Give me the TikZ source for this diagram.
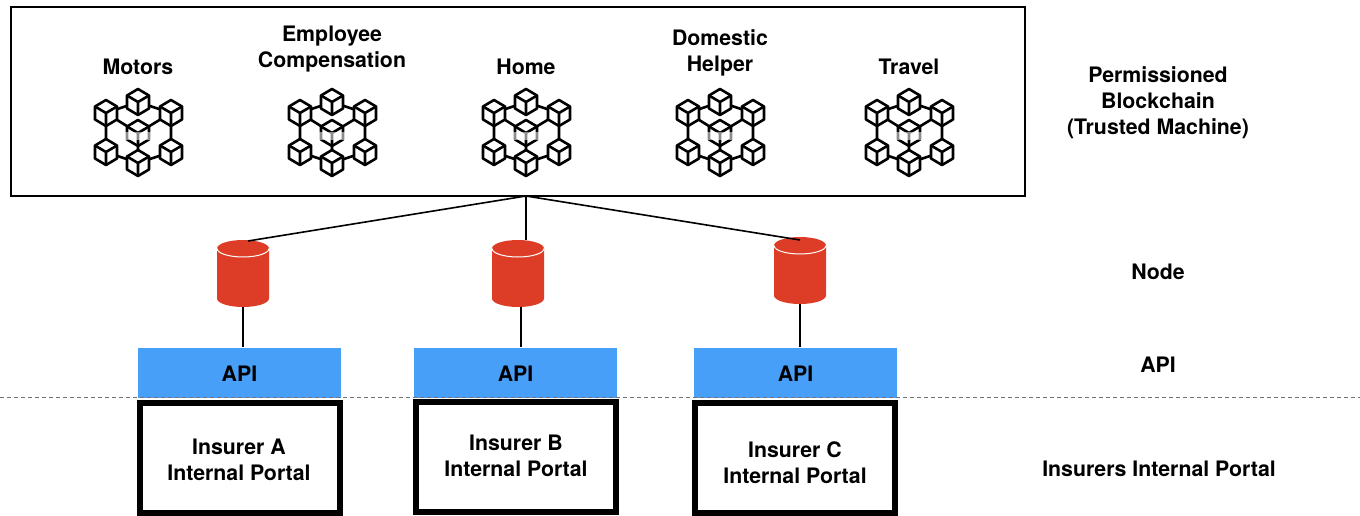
\documentclass[tikz,border=0pt]{standalone}
\usepackage{fontspec}
\setmainfont{TeX Gyre Heros}
\definecolor{dbred}{HTML}{DD3D26}
\definecolor{apiblue}{HTML}{479FF8}
\tikzset{
  x=1pt,y=-1pt,
  label/.style={font=\bfseries\fontsize{21.3}{26}\selectfont,align=center,inner sep=0pt,text=black},
  frame/.style={draw=black,line width=1.6pt,fill=white,inner sep=0pt,minimum width=1014pt,minimum height=189pt},
  apibox/.style={fill=apiblue,inner sep=0pt,minimum width=203pt,minimum height=50pt},
  portal/.style={draw=black,line width=6pt,fill=white,inner sep=0pt,minimum width=200pt,minimum height=110pt},
  dbcyl/.style={inner sep=0pt,minimum width=52pt,minimum height=67pt},
  wire/.style={draw=black,line width=1.6pt},
  cubeline/.style={line width=2.6pt,line join=round,draw=black},
  cubeicon/.pic={
    \path[cubeline,fill=white] (0,-13)--(11,-6.5)--(11,6.5)--(0,13)--(-11,6.5)--(-11,-6.5)--cycle;
    \path[cubeline] (-11,-6.5)--(0,0)--(11,-6.5) (0,0)--(0,13);
  },
  softcube/.pic={
    \path[cubeline,fill=white] (0,-13)--(11,-6.5)--(11,6.5)--(0,13)--(-11,6.5)--(-11,-6.5)--cycle;
    \path[cubeline] (-11,-6.5)--(0,0)--(11,-6.5) (0,0)--(0,13);
    \fill[white,opacity=0.55] (-14,-1) rectangle (14,7);
  },
  chainicon/.pic={
    \path[cubeline] (0,-30)--(-32,-19)--(0,1)--(33,-19)--cycle
      (-32,-19)--(-32,20)--(0,31)--(33,20)--(33,-19) (0,1)--(0,31);
    \path (0,1) pic{softcube} (0,-30) pic{cubeicon} (-32,-19) pic{cubeicon} (33,-19) pic{cubeicon}
      (-32,20) pic{cubeicon} (33,20) pic{cubeicon} (0,31) pic{cubeicon};
  },
  dbicon/.pic={
    \fill[dbred] (-26,-25) -- (-26,25) arc[start angle=180,end angle=0,x radius=26,y radius=8.5] -- (26,-25) arc[start angle=0,end angle=-180,x radius=26,y radius=8.5] -- cycle;
    \draw[white,line width=1pt] (-26,-25) arc[start angle=180,end angle=0,x radius=26,y radius=8.5];
  },
}
\begin{document}
\begin{tikzpicture}
\useasboundingbox (0,0) rectangle (1360,516);
\node[frame] (chain) at (518,101.5) {};
\coordinate (hub) at (526,196);
\pic at (138,132) {chainicon};
\pic at (332,132) {chainicon};
\pic at (526,132) {chainicon};
\pic at (720,132) {chainicon};
\pic at (909,132) {chainicon};
\node[label] (t1) at (138,67) {Motors};
\node[label] (t2) at (332,49) {Employee\\Compensation};
\node[label] (t3) at (526,66.5) {Home};
\node[label] (t4) at (720,52.5) {Domestic\\Helper};
\node[label] (t5) at (909,66.5) {Travel};
\node[label] (r1) at (1158,102.5) {Permissioned\\Blockchain\\(Trusted Machine)};
\node[label] (r2) at (1158,271.5) {Node};
\node[label] (r3) at (1158,364.5) {API};
\node[label] (r4) at (1159,468.5) {Insurers Internal Portal};
% cylinders
\node[dbcyl] (c1) at (243,273.5) {};
\node[dbcyl] (c2) at (518,273.5) {};
\node[dbcyl] (c3) at (800,270.5) {};
\pic at (c1) {dbicon};
\pic at (c2) {dbicon};
\pic at (c3) {dbicon};
\coordinate (e1) at (248,241);
\coordinate (e2) at (526,240);
\coordinate (e3) at (800,240);
\draw[wire] (hub)--(e1);
\draw[wire] (hub)--(e2);
\draw[wire] (hub)--(e3);
% api
\node[apibox] (a1) at (239.5,372.5) {};
\node[apibox] (a2) at (515.5,372.5) {};
\node[apibox] (a3) at (795.5,372.5) {};
\node[label] (al1) at (239.5,373.5) {API};
\node[label] (al2) at (515.5,373.5) {API};
\node[label] (al3) at (795.5,373.5) {API};
\coordinate (w1) at (243,347);
\coordinate (w2) at (521,347);
\coordinate (w3) at (800,347);
\coordinate (b2) at (521,307);
\draw[wire] (w1)--(c1.south);
\draw[wire] (w2)--(b2);
\draw[wire] (w3)--(c3.south);
% portal
\node[portal] (p1) at (240,457.5) {};
\node[portal] (p2) at (516,456.5) {};
\node[portal] (p3) at (795,457.5) {};
\node[label] (pl1) at (239,460) {Insurer A\\Internal Portal};
\node[label] (pl2) at (516,456) {Insurer B\\Internal Portal};
\node[label] (pl3) at (795,463) {Insurer C\\Internal Portal};
\coordinate (dl) at (0,397);
\coordinate (dr) at (1360,397);
\draw[black!55,line width=1pt,dash pattern=on 4pt off 3pt] (dl)--(dr);
\end{tikzpicture}
\end{document}
